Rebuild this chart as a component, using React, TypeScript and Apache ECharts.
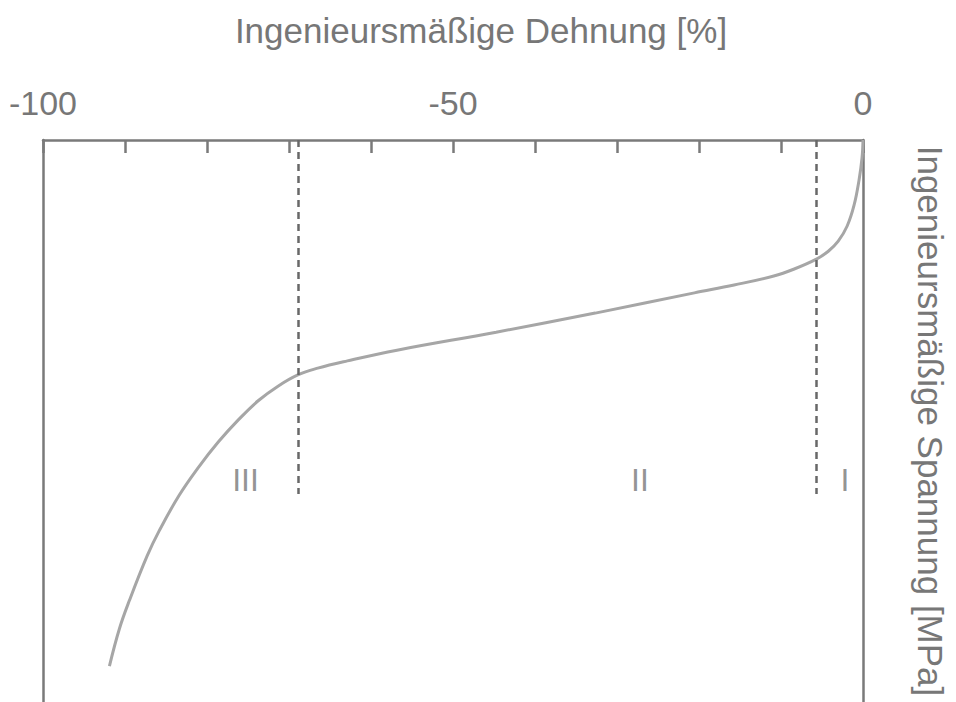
import React, { useEffect, useRef } from "react";
import * as echarts from "echarts";

// Engineering strain [%] (compression, negative) and engineering stress [MPa]
const strain = [
  0, -0.12, -0.48, -1.09, -1.93, -3.02, -4.23, -5.68, -8.46, -10.88, -15.72,
  -20.56, -32.65, -44.74, -56.83, -62.88, -66.5, -68.92, -71.34, -73.76, -76.18,
  -78.6, -81.02, -83.43, -85.85, -87.3, -89.48, -90.69, -91.9,
];
const stress = [
  0, 0.32, 0.71, 1.16, 1.53, 1.8, 1.98, 2.12, 2.3, 2.42, 2.58,
  2.72, 3.08, 3.42, 3.74, 3.93, 4.06, 4.18, 4.38, 4.64, 4.98,
  5.37, 5.82, 6.33, 6.96, 7.4, 8.2, 8.7, 9.36,
];

// Region boundaries (strain) and the region labels
const boundaries = [-68.9, -5.7];
const boundaryEnd = 6.3;
const regionNames = ["III", "II", "I"];
const regionStrain = [-75.3, -27.2, -2.2];
const regionStress = 6.05;

const xTicks = { min: -100, max: 0, step: 10, labelEvery: 50 };

const FONT = "'Liberation Sans', Arial, sans-serif";
const TEXT = "#777777";
const AXIS = "#7a7a7a";

export default function App() {
  const ref = useRef<HTMLDivElement>(null);

  useEffect(() => {
    if (!ref.current) return;
    const chart = echarts.init(ref.current, null, { renderer: "svg" });
    const curve = strain.map((x, i) => [x, stress[i]]);
    const labels = regionNames.map((n, i) => ({ value: [regionStrain[i], regionStress], name: n }));

    chart.setOption({
      animation: false,
      backgroundColor: "#ffffff",
      textStyle: { fontFamily: FONT },
      grid: { left: 43, right: 86, top: 140, bottom: 0 },
      xAxis: {
        type: "value",
        position: "top",
        min: xTicks.min,
        max: xTicks.max,
        interval: xTicks.step,
        name: "Ingenieursmäßige Dehnung [%]",
        nameLocation: "middle",
        nameGap: 92,
        nameTextStyle: { color: TEXT, fontSize: 35, fontFamily: FONT, padding: [0, 0, 0, 56] },
        axisLine: { show: true, lineStyle: { color: AXIS, width: 2.5 } },
        axisTick: { show: true, inside: true, length: 13, lineStyle: { color: AXIS, width: 2.5 } },
        axisLabel: {
          color: TEXT,
          fontSize: 34,
          fontFamily: FONT,
          margin: 20,
          formatter: (v: number) => (v % xTicks.labelEvery === 0 ? String(v) : ""),
        },
        splitLine: { show: false },
      },
      yAxis: [
        {
          type: "value",
          position: "right",
          inverse: true,
          min: 0,
          max: 10,
          name: "Ingenieursmäßige Spannung [MPa]",
          nameLocation: "middle",
          nameRotate: -90,
          nameGap: 50,
          nameTextStyle: { color: TEXT, fontSize: 35, fontFamily: FONT },
          axisLine: { show: true, lineStyle: { color: AXIS, width: 2.5 } },
          axisTick: { show: false },
          axisLabel: { show: false },
          splitLine: { show: false },
        },
        {
          type: "value",
          position: "left",
          inverse: true,
          min: 0,
          max: 10,
          axisLine: { show: true, lineStyle: { color: AXIS, width: 2.5 } },
          axisTick: { show: false },
          axisLabel: { show: false },
          splitLine: { show: false },
        },
      ],
      series: [
        {
          type: "line",
          data: curve,
          smooth: 0.4,
          showSymbol: false,
          lineStyle: { color: "#a6a6a6", width: 3 },
          markLine: {
            silent: true,
            symbol: ["none", "none"],
            label: { show: false },
            lineStyle: { color: "#686868", width: 2.5, type: [7, 5] },
            data: boundaries.map((b) => [{ coord: [b, 0] }, { coord: [b, boundaryEnd] }]),
          },
        },
        {
          type: "scatter",
          data: labels,
          symbolSize: 0,
          label: {
            show: true,
            position: "inside",
            formatter: (p: any) => p.name,
            color: TEXT,
            fontSize: 32,
            fontFamily: FONT,
          },
        },
      ],
    });
    return () => chart.dispose();
  }, []);

  return (
    <div
      ref={ref}
      style={{ position: "fixed", left: 0, top: 0, width: 956, height: 702, background: "#fff" }}
    />
  );
}
